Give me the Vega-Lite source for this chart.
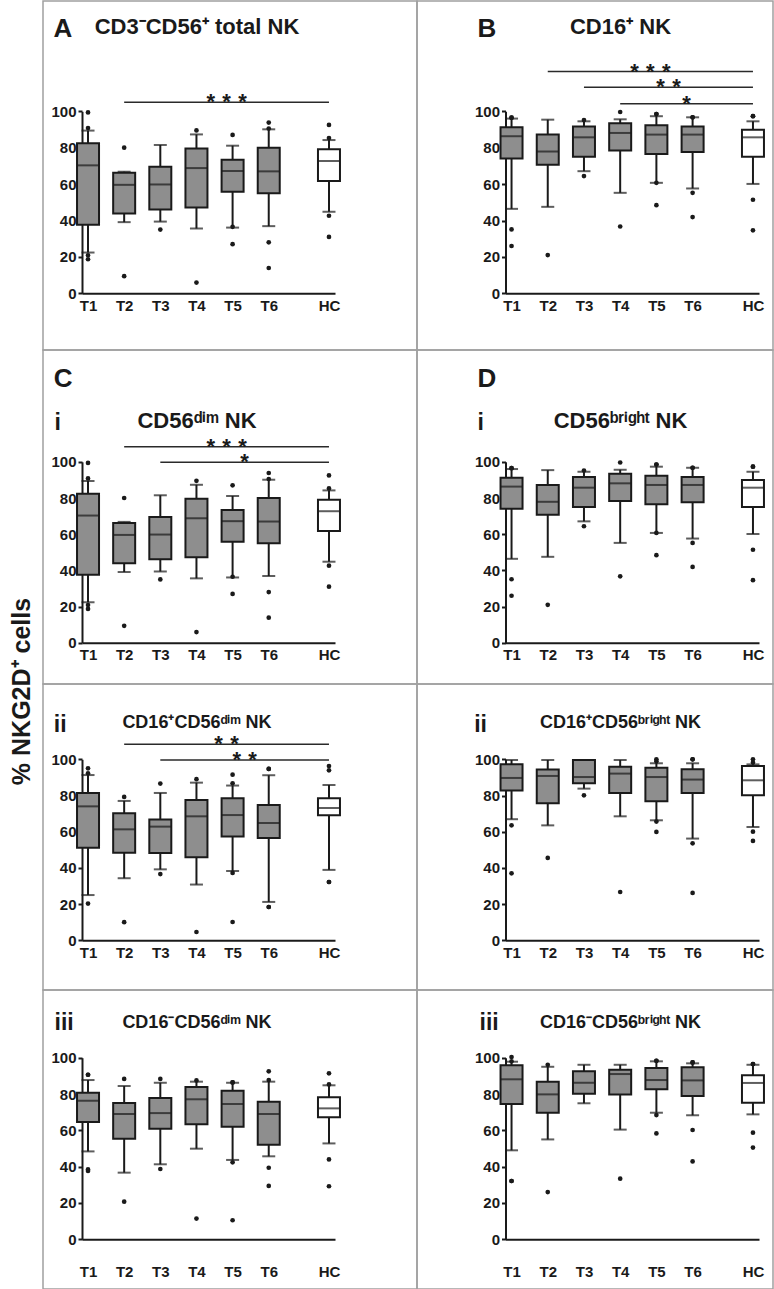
{
  "$schema": "https://vega.github.io/schema/vega-lite/v6.json",
  "padding": 0,
  "background": "#ffffff",
  "columns": 3,
  "spacing": 0,
  "bounds": "flush",
  "datasets": {
    "stats": [
      {"p":"A","g":"T1","lo":22.4,"q1":37.6,"med":70.3,"q3":82.4,"hi":89.4},
      {"p":"A","g":"T2","lo":39.1,"q1":43.9,"med":59.6,"q3":66.2,"hi":66.8},
      {"p":"A","g":"T3","lo":39.4,"q1":46.1,"med":59.8,"q3":69.5,"hi":81.5},
      {"p":"A","g":"T4","lo":35.6,"q1":47.2,"med":68.8,"q3":79.6,"hi":87.3},
      {"p":"A","g":"T5","lo":36.1,"q1":55.8,"med":67.2,"q3":73.4,"hi":81.1},
      {"p":"A","g":"T6","lo":36.9,"q1":55.0,"med":67.0,"q3":80.0,"hi":90.1},
      {"p":"A","g":"HC","lo":44.8,"q1":61.7,"med":72.7,"q3":79.1,"hi":84.2},
      {"p":"B","g":"T1","lo":46.4,"q1":74.0,"med":86.3,"q3":91.2,"hi":96.0},
      {"p":"B","g":"T2","lo":47.5,"q1":70.7,"med":77.9,"q3":87.2,"hi":95.4},
      {"p":"B","g":"T3","lo":67.1,"q1":75.0,"med":85.7,"q3":91.6,"hi":94.5},
      {"p":"B","g":"T4","lo":55.2,"q1":78.4,"med":88.1,"q3":93.4,"hi":95.6},
      {"p":"B","g":"T5","lo":60.7,"q1":76.6,"med":87.2,"q3":92.3,"hi":97.3},
      {"p":"B","g":"T6","lo":57.6,"q1":77.7,"med":87.2,"q3":91.6,"hi":96.7},
      {"p":"B","g":"HC","lo":60.1,"q1":75.0,"med":85.7,"q3":89.9,"hi":94.5},
      {"p":"Ci","g":"T1","lo":22.4,"q1":37.6,"med":70.3,"q3":82.4,"hi":89.4},
      {"p":"Ci","g":"T2","lo":39.1,"q1":43.9,"med":59.6,"q3":66.2,"hi":66.8},
      {"p":"Ci","g":"T3","lo":39.4,"q1":46.1,"med":59.8,"q3":69.5,"hi":81.5},
      {"p":"Ci","g":"T4","lo":35.6,"q1":47.2,"med":68.8,"q3":79.6,"hi":87.3},
      {"p":"Ci","g":"T5","lo":36.1,"q1":55.8,"med":67.2,"q3":73.4,"hi":81.1},
      {"p":"Ci","g":"T6","lo":36.9,"q1":55.0,"med":67.0,"q3":80.0,"hi":90.1},
      {"p":"Ci","g":"HC","lo":44.8,"q1":61.7,"med":72.7,"q3":79.1,"hi":84.2},
      {"p":"Di","g":"T1","lo":46.4,"q1":74.0,"med":86.3,"q3":91.2,"hi":96.0},
      {"p":"Di","g":"T2","lo":47.5,"q1":70.7,"med":77.9,"q3":87.2,"hi":95.4},
      {"p":"Di","g":"T3","lo":67.1,"q1":75.0,"med":85.7,"q3":91.6,"hi":94.5},
      {"p":"Di","g":"T4","lo":55.2,"q1":78.4,"med":88.1,"q3":93.4,"hi":95.6},
      {"p":"Di","g":"T5","lo":60.7,"q1":76.6,"med":87.2,"q3":92.3,"hi":97.3},
      {"p":"Di","g":"T6","lo":57.6,"q1":77.7,"med":87.2,"q3":91.6,"hi":96.7},
      {"p":"Di","g":"HC","lo":60.1,"q1":75.0,"med":85.7,"q3":89.9,"hi":94.5},
      {"p":"Cii","g":"T1","lo":25.0,"q1":51.2,"med":74.0,"q3":81.4,"hi":91.3},
      {"p":"Cii","g":"T2","lo":34.3,"q1":48.4,"med":61.3,"q3":70.2,"hi":77.0},
      {"p":"Cii","g":"T3","lo":39.2,"q1":48.3,"med":62.8,"q3":66.7,"hi":81.4},
      {"p":"Cii","g":"T4","lo":30.8,"q1":45.9,"med":68.5,"q3":77.5,"hi":87.1},
      {"p":"Cii","g":"T5","lo":38.3,"q1":57.3,"med":69.2,"q3":78.5,"hi":85.5},
      {"p":"Cii","g":"T6","lo":21.2,"q1":56.5,"med":64.8,"q3":74.8,"hi":91.2},
      {"p":"Cii","g":"HC","lo":38.9,"q1":69.1,"med":73.1,"q3":78.5,"hi":85.8},
      {"p":"Dii","g":"T1","lo":66.9,"q1":82.7,"med":89.7,"q3":97.2,"hi":99.6},
      {"p":"Dii","g":"T2","lo":63.5,"q1":75.7,"med":90.8,"q3":94.3,"hi":99.6},
      {"p":"Dii","g":"T3","lo":83.8,"q1":86.7,"med":90.2,"q3":99.6,"hi":99.6},
      {"p":"Dii","g":"T4","lo":68.5,"q1":81.4,"med":92.1,"q3":95.9,"hi":99.6},
      {"p":"Dii","g":"T5","lo":66.3,"q1":76.8,"med":90.2,"q3":95.4,"hi":97.8},
      {"p":"Dii","g":"T6","lo":56.2,"q1":81.4,"med":88.8,"q3":94.5,"hi":97.8},
      {"p":"Dii","g":"HC","lo":62.6,"q1":80.1,"med":88.4,"q3":96.3,"hi":97.2},
      {"p":"Ciii","g":"T1","lo":48.4,"q1":64.6,"med":76.3,"q3":80.7,"hi":87.7},
      {"p":"Ciii","g":"T2","lo":36.7,"q1":55.4,"med":69.0,"q3":75.0,"hi":84.4},
      {"p":"Ciii","g":"T3","lo":41.3,"q1":60.9,"med":69.5,"q3":77.8,"hi":86.2},
      {"p":"Ciii","g":"T4","lo":49.9,"q1":63.3,"med":77.1,"q3":83.9,"hi":86.8},
      {"p":"Ciii","g":"T5","lo":43.7,"q1":62.0,"med":74.5,"q3":81.8,"hi":86.2},
      {"p":"Ciii","g":"T6","lo":45.7,"q1":52.1,"med":69.0,"q3":75.8,"hi":86.8},
      {"p":"Ciii","g":"HC","lo":52.8,"q1":67.2,"med":72.1,"q3":78.2,"hi":84.8},
      {"p":"Diii","g":"T1","lo":49.0,"q1":74.5,"med":88.1,"q3":95.8,"hi":97.8},
      {"p":"Diii","g":"T2","lo":55.0,"q1":69.7,"med":79.8,"q3":86.8,"hi":95.0},
      {"p":"Diii","g":"T3","lo":74.9,"q1":80.2,"med":86.2,"q3":92.5,"hi":96.1},
      {"p":"Diii","g":"T4","lo":60.4,"q1":79.8,"med":91.0,"q3":93.4,"hi":96.1},
      {"p":"Diii","g":"T5","lo":69.7,"q1":82.6,"med":87.7,"q3":94.3,"hi":98.0},
      {"p":"Diii","g":"T6","lo":68.3,"q1":78.9,"med":87.5,"q3":94.7,"hi":96.9},
      {"p":"Diii","g":"HC","lo":68.8,"q1":75.2,"med":86.1,"q3":90.3,"hi":96.1}
    ],
    "out": [
      {"p":"A","g":"T1","v":99.4},{"p":"A","g":"T1","v":90.8},{"p":"A","g":"T1","v":20.9},{"p":"A","g":"T1","v":18.7},
      {"p":"A","g":"T2","v":80.0},{"p":"A","g":"T2","v":9.4},
      {"p":"A","g":"T3","v":35.0},
      {"p":"A","g":"T4","v":89.5},{"p":"A","g":"T4","v":5.9},
      {"p":"A","g":"T5","v":87.0},{"p":"A","g":"T5","v":36.5},{"p":"A","g":"T5","v":27.0},
      {"p":"A","g":"T6","v":93.8},{"p":"A","g":"T6","v":90.5},{"p":"A","g":"T6","v":28.0},{"p":"A","g":"T6","v":13.9},
      {"p":"A","g":"HC","v":92.5},{"p":"A","g":"HC","v":85.3},{"p":"A","g":"HC","v":42.6},{"p":"A","g":"HC","v":31.0},
      {"p":"B","g":"T1","v":96.5},{"p":"B","g":"T1","v":96.5},{"p":"B","g":"T1","v":35.1},{"p":"B","g":"T1","v":26.0},
      {"p":"B","g":"T2","v":21.0},
      {"p":"B","g":"T3","v":95.2},{"p":"B","g":"T3","v":64.4},
      {"p":"B","g":"T4","v":99.6},{"p":"B","g":"T4","v":36.7},
      {"p":"B","g":"T5","v":98.5},{"p":"B","g":"T5","v":98.5},{"p":"B","g":"T5","v":60.7},{"p":"B","g":"T5","v":48.4},
      {"p":"B","g":"T6","v":96.7},{"p":"B","g":"T6","v":96.7},{"p":"B","g":"T6","v":55.2},{"p":"B","g":"T6","v":41.9},
      {"p":"B","g":"HC","v":97.3},{"p":"B","g":"HC","v":97.3},{"p":"B","g":"HC","v":51.4},{"p":"B","g":"HC","v":34.6},
      {"p":"Ci","g":"T1","v":99.4},{"p":"Ci","g":"T1","v":90.8},{"p":"Ci","g":"T1","v":20.9},{"p":"Ci","g":"T1","v":18.7},
      {"p":"Ci","g":"T2","v":80.0},{"p":"Ci","g":"T2","v":9.4},
      {"p":"Ci","g":"T3","v":35.0},
      {"p":"Ci","g":"T4","v":89.5},{"p":"Ci","g":"T4","v":5.9},
      {"p":"Ci","g":"T5","v":87.0},{"p":"Ci","g":"T5","v":36.5},{"p":"Ci","g":"T5","v":27.0},
      {"p":"Ci","g":"T6","v":93.8},{"p":"Ci","g":"T6","v":90.5},{"p":"Ci","g":"T6","v":28.0},{"p":"Ci","g":"T6","v":13.9},
      {"p":"Ci","g":"HC","v":92.5},{"p":"Ci","g":"HC","v":85.3},{"p":"Ci","g":"HC","v":42.6},{"p":"Ci","g":"HC","v":31.0},
      {"p":"Di","g":"T1","v":96.5},{"p":"Di","g":"T1","v":96.5},{"p":"Di","g":"T1","v":35.1},{"p":"Di","g":"T1","v":26.0},
      {"p":"Di","g":"T2","v":21.0},
      {"p":"Di","g":"T3","v":95.2},{"p":"Di","g":"T3","v":64.4},
      {"p":"Di","g":"T4","v":99.6},{"p":"Di","g":"T4","v":36.7},
      {"p":"Di","g":"T5","v":98.5},{"p":"Di","g":"T5","v":98.5},{"p":"Di","g":"T5","v":60.7},{"p":"Di","g":"T5","v":48.4},
      {"p":"Di","g":"T6","v":96.7},{"p":"Di","g":"T6","v":96.7},{"p":"Di","g":"T6","v":55.2},{"p":"Di","g":"T6","v":41.9},
      {"p":"Di","g":"HC","v":97.3},{"p":"Di","g":"HC","v":97.3},{"p":"Di","g":"HC","v":51.4},{"p":"Di","g":"HC","v":34.6},
      {"p":"Cii","g":"T1","v":95.0},{"p":"Cii","g":"T1","v":92.3},{"p":"Cii","g":"T1","v":20.3},
      {"p":"Cii","g":"T2","v":79.2},{"p":"Cii","g":"T2","v":10.0},
      {"p":"Cii","g":"T3","v":86.6},{"p":"Cii","g":"T3","v":36.6},
      {"p":"Cii","g":"T4","v":89.0},{"p":"Cii","g":"T4","v":4.6},
      {"p":"Cii","g":"T5","v":91.5},{"p":"Cii","g":"T5","v":86.7},{"p":"Cii","g":"T5","v":37.2},{"p":"Cii","g":"T5","v":10.1},
      {"p":"Cii","g":"T6","v":94.7},{"p":"Cii","g":"T6","v":94.7},{"p":"Cii","g":"T6","v":18.4},{"p":"Cii","g":"T6","v":18.4},
      {"p":"Cii","g":"HC","v":96.3},{"p":"Cii","g":"HC","v":93.9},{"p":"Cii","g":"HC","v":32.2},{"p":"Cii","g":"HC","v":32.2},
      {"p":"Dii","g":"T1","v":63.5},{"p":"Dii","g":"T1","v":37.0},
      {"p":"Dii","g":"T2","v":45.5},
      {"p":"Dii","g":"T3","v":80.1},
      {"p":"Dii","g":"T4","v":26.7},
      {"p":"Dii","g":"T5","v":100.0},{"p":"Dii","g":"T5","v":98.9},{"p":"Dii","g":"T5","v":65.6},{"p":"Dii","g":"T5","v":59.9},
      {"p":"Dii","g":"T6","v":100.0},{"p":"Dii","g":"T6","v":100.0},{"p":"Dii","g":"T6","v":53.6},{"p":"Dii","g":"T6","v":26.2},
      {"p":"Dii","g":"HC","v":100.0},{"p":"Dii","g":"HC","v":98.2},{"p":"Dii","g":"HC","v":60.0},{"p":"Dii","g":"HC","v":54.9},
      {"p":"Ciii","g":"T1","v":90.6},{"p":"Ciii","g":"T1","v":90.6},{"p":"Ciii","g":"T1","v":38.5},{"p":"Ciii","g":"T1","v":37.6},
      {"p":"Ciii","g":"T2","v":88.3},{"p":"Ciii","g":"T2","v":20.7},
      {"p":"Ciii","g":"T3","v":88.3},{"p":"Ciii","g":"T3","v":38.7},
      {"p":"Ciii","g":"T4","v":87.5},{"p":"Ciii","g":"T4","v":11.4},
      {"p":"Ciii","g":"T5","v":86.4},{"p":"Ciii","g":"T5","v":86.4},{"p":"Ciii","g":"T5","v":42.4},{"p":"Ciii","g":"T5","v":10.5},
      {"p":"Ciii","g":"T6","v":92.5},{"p":"Ciii","g":"T6","v":87.7},{"p":"Ciii","g":"T6","v":39.4},{"p":"Ciii","g":"T6","v":29.4},
      {"p":"Ciii","g":"HC","v":91.4},{"p":"Ciii","g":"HC","v":85.3},{"p":"Ciii","g":"HC","v":44.0},{"p":"Ciii","g":"HC","v":29.2},
      {"p":"Diii","g":"T1","v":100.4},{"p":"Diii","g":"T1","v":98.0},{"p":"Diii","g":"T1","v":32.1},{"p":"Diii","g":"T1","v":32.1},
      {"p":"Diii","g":"T2","v":96.1},{"p":"Diii","g":"T2","v":26.0},
      {"p":"Diii","g":"T4","v":33.4},
      {"p":"Diii","g":"T5","v":98.3},{"p":"Diii","g":"T5","v":98.3},{"p":"Diii","g":"T5","v":68.4},{"p":"Diii","g":"T5","v":58.3},
      {"p":"Diii","g":"T6","v":97.4},{"p":"Diii","g":"T6","v":97.4},{"p":"Diii","g":"T6","v":60.2},{"p":"Diii","g":"T6","v":42.9},
      {"p":"Diii","g":"HC","v":96.5},{"p":"Diii","g":"HC","v":96.5},{"p":"Diii","g":"HC","v":58.7},{"p":"Diii","g":"HC","v":50.5}
    ],
    "sig": [
      {"p":"A","from":"T2","to":"HC","pair":"T2-HC","level":105.0,"stars":"*\u2004*\u2004*"},
      {"p":"B","from":"T2","to":"HC","pair":"T2-HC","level":121.8,"stars":"*\u2004*\u2004*"},
      {"p":"B","from":"T3","to":"HC","pair":"T3-HC","level":113.2,"stars":"*\u2004*"},
      {"p":"B","from":"T4","to":"HC","pair":"T4-HC","level":104.2,"stars":"*"},
      {"p":"Ci","from":"T2","to":"HC","pair":"T2-HC","level":108.3,"stars":"*\u2004*\u2004*"},
      {"p":"Ci","from":"T3","to":"HC","pair":"T3-HC","level":99.8,"stars":"*"},
      {"p":"Cii","from":"T2","to":"HC","pair":"T2-HC","level":108.3,"stars":"*\u2004*"},
      {"p":"Cii","from":"T3","to":"HC","pair":"T3-HC","level":99.6,"stars":"*\u2004*"}
    ]
  },
  "concat": [
    {"width": 43, "height": 349, "view": {"stroke": null}, "data": {"values": [{"v": 0}]}, "mark": {"type": "point", "opacity": 0}, "encoding": {"y": {"field": "v", "type": "quantitative", "axis": null}}},
    {
      "width": 374, "height": 349,
      "title": {"text": "CD3⁻CD56⁺ total NK", "anchor": "middle", "frame": "group", "dx": -33, "offset": -55.3, "baseline": "alphabetic", "fontSize": 22},
      "encoding": {"x": {"field": "g", "type": "ordinal", "scale": {"type": "point", "domain": ["T1","s1","s2","s3","s4","s5","T2","s7","s8","s9","s10","s11","T3","s13","s14","s15","s16","s17","T4","s19","s20","s21","s22","T2-HC","T5","s25","T3-HC","s27","s28","T4-HC","T6","s31","s32","s33","s34","s35","s36","s37","s38","s39","HC"], "range": [39, 292], "padding": 2.9}, "axis": {"values": ["T1","T2","T3","T4","T5","T6","HC"], "orient": "bottom", "offset": -56.7, "ticks": false, "labelPadding": 5, "labelAngle": 0, "title": null}}},
      "layer": [
        {"data": {"name": "stats"}, "transform": [{"filter": "datum.p === 'A'"}], "mark": {"type": "rule", "color": "#1a1a1a", "strokeWidth": 2}, "encoding": {"y": {"field": "lo", "type": "quantitative", "scale": {"domain": [0, 100], "range": [292.3, 110.3], "nice": false, "zero": false}, "axis": {"values": [0,20,40,60,80,100], "orient": "left", "offset": -39, "tickSize": 4, "labelPadding": 2, "title": "A", "titleAngle": 0, "titleX": -29, "titleY": 35, "titleAlign": "left", "titleBaseline": "alphabetic", "titleFontSize": 26}}, "y2": {"field": "hi"}}},
        {"data": {"name": "stats"}, "transform": [{"filter": "datum.p === 'A'"}], "mark": {"type": "tick", "size": 13, "thickness": 2, "color": "#1a1a1a"}, "encoding": {"y": {"field": "hi", "type": "quantitative"}}},
        {"data": {"name": "stats"}, "transform": [{"filter": "datum.p === 'A'"}], "mark": {"type": "tick", "size": 13, "thickness": 2, "color": "#1a1a1a"}, "encoding": {"y": {"field": "lo", "type": "quantitative"}}},
        {"data": {"name": "stats"}, "transform": [{"filter": "datum.p === 'A'"}], "mark": {"type": "bar", "size": 22, "stroke": "#1a1a1a", "strokeWidth": 2}, "encoding": {"y": {"field": "q1", "type": "quantitative"}, "y2": {"field": "q3"}, "fill": {"field": "g", "type": "nominal", "scale": {"domain": ["T1","T2","T3","T4","T5","T6","HC"], "range": ["#8e8e8e","#8e8e8e","#8e8e8e","#8e8e8e","#8e8e8e","#8e8e8e","#ffffff"]}, "legend": null}}},
        {"data": {"name": "stats"}, "transform": [{"filter": "datum.p === 'A'"}], "mark": {"type": "tick", "size": 22, "thickness": 2, "color": "#1a1a1a"}, "encoding": {"y": {"field": "med", "type": "quantitative"}}},
        {"data": {"name": "out"}, "transform": [{"filter": "datum.p === 'A'"}], "mark": {"type": "circle", "size": 22, "color": "#1a1a1a", "opacity": 1}, "encoding": {"y": {"field": "v", "type": "quantitative"}}},
        {"data": {"name": "sig"}, "transform": [{"filter": "datum.p === 'A'"}], "mark": {"type": "rule", "color": "#2a2a2a", "strokeWidth": 1.5}, "encoding": {"x": {"field": "from", "type": "ordinal"}, "x2": {"field": "to"}, "y": {"field": "level", "type": "quantitative"}}},
        {"data": {"name": "sig"}, "transform": [{"filter": "datum.p === 'A'"}], "mark": {"type": "text", "fontSize": 22, "fontWeight": "bold", "baseline": "alphabetic", "dy": 7, "color": "#1a1a1a"}, "encoding": {"x": {"field": "pair", "type": "ordinal"}, "y": {"field": "level", "type": "quantitative"}, "text": {"field": "stars"}}}
      ]
    },
    {
      "width": 356, "height": 349,
      "title": {"text": "CD16⁺ NK", "anchor": "middle", "frame": "group", "dx": 25.5, "offset": -55.3, "baseline": "alphabetic", "fontSize": 22},
      "encoding": {"x": {"field": "g", "type": "ordinal", "scale": {"type": "point", "domain": ["T1","s1","s2","s3","s4","s5","T2","s7","s8","s9","s10","s11","T3","s13","s14","s15","s16","s17","T4","s19","s20","s21","s22","T2-HC","T5","s25","T3-HC","s27","s28","T4-HC","T6","s31","s32","s33","s34","s35","s36","s37","s38","s39","HC"], "range": [88.5, 342], "padding": 3.0}, "axis": {"values": ["T1","T2","T3","T4","T5","T6","HC"], "orient": "bottom", "offset": -56.7, "ticks": false, "labelPadding": 5, "labelAngle": 0, "title": null}}},
      "layer": [
        {"data": {"name": "stats"}, "transform": [{"filter": "datum.p === 'B'"}], "mark": {"type": "rule", "color": "#1a1a1a", "strokeWidth": 2}, "encoding": {"y": {"field": "lo", "type": "quantitative", "scale": {"domain": [0, 100], "range": [292.3, 110.3], "nice": false, "zero": false}, "axis": {"values": [0,20,40,60,80,100], "orient": "left", "offset": -88.5, "tickSize": 4, "labelPadding": 2, "title": "B", "titleAngle": 0, "titleX": -28.5, "titleY": 35, "titleAlign": "left", "titleBaseline": "alphabetic", "titleFontSize": 26}}, "y2": {"field": "hi"}}},
        {"data": {"name": "stats"}, "transform": [{"filter": "datum.p === 'B'"}], "mark": {"type": "tick", "size": 13, "thickness": 2, "color": "#1a1a1a"}, "encoding": {"y": {"field": "hi", "type": "quantitative"}}},
        {"data": {"name": "stats"}, "transform": [{"filter": "datum.p === 'B'"}], "mark": {"type": "tick", "size": 13, "thickness": 2, "color": "#1a1a1a"}, "encoding": {"y": {"field": "lo", "type": "quantitative"}}},
        {"data": {"name": "stats"}, "transform": [{"filter": "datum.p === 'B'"}], "mark": {"type": "bar", "size": 22, "stroke": "#1a1a1a", "strokeWidth": 2}, "encoding": {"y": {"field": "q1", "type": "quantitative"}, "y2": {"field": "q3"}, "fill": {"field": "g", "type": "nominal", "scale": {"domain": ["T1","T2","T3","T4","T5","T6","HC"], "range": ["#8e8e8e","#8e8e8e","#8e8e8e","#8e8e8e","#8e8e8e","#8e8e8e","#ffffff"]}, "legend": null}}},
        {"data": {"name": "stats"}, "transform": [{"filter": "datum.p === 'B'"}], "mark": {"type": "tick", "size": 22, "thickness": 2, "color": "#1a1a1a"}, "encoding": {"y": {"field": "med", "type": "quantitative"}}},
        {"data": {"name": "out"}, "transform": [{"filter": "datum.p === 'B'"}], "mark": {"type": "circle", "size": 22, "color": "#1a1a1a", "opacity": 1}, "encoding": {"y": {"field": "v", "type": "quantitative"}}},
        {"data": {"name": "sig"}, "transform": [{"filter": "datum.p === 'B'"}], "mark": {"type": "rule", "color": "#2a2a2a", "strokeWidth": 1.5}, "encoding": {"x": {"field": "from", "type": "ordinal"}, "x2": {"field": "to"}, "y": {"field": "level", "type": "quantitative"}}},
        {"data": {"name": "sig"}, "transform": [{"filter": "datum.p === 'B'"}], "mark": {"type": "text", "fontSize": 22, "fontWeight": "bold", "baseline": "alphabetic", "dy": 7, "color": "#1a1a1a"}, "encoding": {"x": {"field": "pair", "type": "ordinal"}, "y": {"field": "level", "type": "quantitative"}, "text": {"field": "stars"}}}
      ]
    },
    {"width": 43, "height": 334, "view": {"stroke": null}, "data": {"values": [{"v": 0}]}, "mark": {"type": "point", "opacity": 0}, "encoding": {"y": {"field": "v", "type": "quantitative", "axis": {"labels": false, "ticks": false, "domain": false, "grid": false, "title": "% NKG2D⁺ cells", "titleAngle": 270, "titleX": 21.7, "titleY": 341, "titleAlign": "center", "titleBaseline": "middle", "titleFontSize": 25}}}},
    {
      "width": 374, "height": 334,
      "title": {"text": "CD56ᵈⁱᵐ NK", "anchor": "middle", "frame": "group", "dx": -33, "offset": -100, "baseline": "alphabetic", "fontSize": 22},
      "encoding": {"x": {"field": "g", "type": "ordinal", "scale": {"type": "point", "domain": ["T1","s1","s2","s3","s4","s5","T2","s7","s8","s9","s10","s11","T3","s13","s14","s15","s16","s17","T4","s19","s20","s21","s22","T2-HC","T5","s25","T3-HC","s27","s28","T4-HC","T6","s31","s32","s33","s34","s35","s36","s37","s38","s39","HC"], "range": [39, 292], "padding": 2.9}, "axis": {"values": ["T1","T2","T3","T4","T5","T6","HC"], "orient": "bottom", "offset": -41.2, "ticks": false, "labelPadding": 5, "labelAngle": 0, "title": "i", "titleX": 11, "titleY": -213.5, "titleAlign": "left", "titleBaseline": "alphabetic", "titleFontSize": 23}}},
      "layer": [
        {"data": {"name": "stats"}, "transform": [{"filter": "datum.p === 'Ci'"}], "mark": {"type": "rule", "color": "#1a1a1a", "strokeWidth": 2}, "encoding": {"y": {"field": "lo", "type": "quantitative", "scale": {"domain": [0, 100], "range": [292.8, 111.8], "nice": false, "zero": false}, "axis": {"values": [0,20,40,60,80,100], "orient": "left", "offset": -39, "tickSize": 4, "labelPadding": 2, "title": "C", "titleAngle": 0, "titleX": -28.7, "titleY": 36, "titleAlign": "left", "titleBaseline": "alphabetic", "titleFontSize": 26}}, "y2": {"field": "hi"}}},
        {"data": {"name": "stats"}, "transform": [{"filter": "datum.p === 'Ci'"}], "mark": {"type": "tick", "size": 13, "thickness": 2, "color": "#1a1a1a"}, "encoding": {"y": {"field": "hi", "type": "quantitative"}}},
        {"data": {"name": "stats"}, "transform": [{"filter": "datum.p === 'Ci'"}], "mark": {"type": "tick", "size": 13, "thickness": 2, "color": "#1a1a1a"}, "encoding": {"y": {"field": "lo", "type": "quantitative"}}},
        {"data": {"name": "stats"}, "transform": [{"filter": "datum.p === 'Ci'"}], "mark": {"type": "bar", "size": 22, "stroke": "#1a1a1a", "strokeWidth": 2}, "encoding": {"y": {"field": "q1", "type": "quantitative"}, "y2": {"field": "q3"}, "fill": {"field": "g", "type": "nominal", "scale": {"domain": ["T1","T2","T3","T4","T5","T6","HC"], "range": ["#8e8e8e","#8e8e8e","#8e8e8e","#8e8e8e","#8e8e8e","#8e8e8e","#ffffff"]}, "legend": null}}},
        {"data": {"name": "stats"}, "transform": [{"filter": "datum.p === 'Ci'"}], "mark": {"type": "tick", "size": 22, "thickness": 2, "color": "#1a1a1a"}, "encoding": {"y": {"field": "med", "type": "quantitative"}}},
        {"data": {"name": "out"}, "transform": [{"filter": "datum.p === 'Ci'"}], "mark": {"type": "circle", "size": 22, "color": "#1a1a1a", "opacity": 1}, "encoding": {"y": {"field": "v", "type": "quantitative"}}},
        {"data": {"name": "sig"}, "transform": [{"filter": "datum.p === 'Ci'"}], "mark": {"type": "rule", "color": "#2a2a2a", "strokeWidth": 1.5}, "encoding": {"x": {"field": "from", "type": "ordinal"}, "x2": {"field": "to"}, "y": {"field": "level", "type": "quantitative"}}},
        {"data": {"name": "sig"}, "transform": [{"filter": "datum.p === 'Ci'"}], "mark": {"type": "text", "fontSize": 22, "fontWeight": "bold", "baseline": "alphabetic", "dy": 7, "color": "#1a1a1a"}, "encoding": {"x": {"field": "pair", "type": "ordinal"}, "y": {"field": "level", "type": "quantitative"}, "text": {"field": "stars"}}}
      ]
    },
    {
      "width": 356, "height": 334,
      "title": {"text": "CD56ᵇʳⁱᵍʰᵗ NK", "anchor": "middle", "frame": "group", "dx": 25.5, "offset": -100, "baseline": "alphabetic", "fontSize": 22},
      "encoding": {"x": {"field": "g", "type": "ordinal", "scale": {"type": "point", "domain": ["T1","s1","s2","s3","s4","s5","T2","s7","s8","s9","s10","s11","T3","s13","s14","s15","s16","s17","T4","s19","s20","s21","s22","T2-HC","T5","s25","T3-HC","s27","s28","T4-HC","T6","s31","s32","s33","s34","s35","s36","s37","s38","s39","HC"], "range": [88.5, 342], "padding": 3.0}, "axis": {"values": ["T1","T2","T3","T4","T5","T6","HC"], "orient": "bottom", "offset": -41.2, "ticks": false, "labelPadding": 5, "labelAngle": 0, "title": "i", "titleX": 60, "titleY": -213.5, "titleAlign": "left", "titleBaseline": "alphabetic", "titleFontSize": 23}}},
      "layer": [
        {"data": {"name": "stats"}, "transform": [{"filter": "datum.p === 'Di'"}], "mark": {"type": "rule", "color": "#1a1a1a", "strokeWidth": 2}, "encoding": {"y": {"field": "lo", "type": "quantitative", "scale": {"domain": [0, 100], "range": [292.8, 111.8], "nice": false, "zero": false}, "axis": {"values": [0,20,40,60,80,100], "orient": "left", "offset": -88.5, "tickSize": 4, "labelPadding": 2, "title": "D", "titleAngle": 0, "titleX": -28.5, "titleY": 36, "titleAlign": "left", "titleBaseline": "alphabetic", "titleFontSize": 26}}, "y2": {"field": "hi"}}},
        {"data": {"name": "stats"}, "transform": [{"filter": "datum.p === 'Di'"}], "mark": {"type": "tick", "size": 13, "thickness": 2, "color": "#1a1a1a"}, "encoding": {"y": {"field": "hi", "type": "quantitative"}}},
        {"data": {"name": "stats"}, "transform": [{"filter": "datum.p === 'Di'"}], "mark": {"type": "tick", "size": 13, "thickness": 2, "color": "#1a1a1a"}, "encoding": {"y": {"field": "lo", "type": "quantitative"}}},
        {"data": {"name": "stats"}, "transform": [{"filter": "datum.p === 'Di'"}], "mark": {"type": "bar", "size": 22, "stroke": "#1a1a1a", "strokeWidth": 2}, "encoding": {"y": {"field": "q1", "type": "quantitative"}, "y2": {"field": "q3"}, "fill": {"field": "g", "type": "nominal", "scale": {"domain": ["T1","T2","T3","T4","T5","T6","HC"], "range": ["#8e8e8e","#8e8e8e","#8e8e8e","#8e8e8e","#8e8e8e","#8e8e8e","#ffffff"]}, "legend": null}}},
        {"data": {"name": "stats"}, "transform": [{"filter": "datum.p === 'Di'"}], "mark": {"type": "tick", "size": 22, "thickness": 2, "color": "#1a1a1a"}, "encoding": {"y": {"field": "med", "type": "quantitative"}}},
        {"data": {"name": "out"}, "transform": [{"filter": "datum.p === 'Di'"}], "mark": {"type": "circle", "size": 22, "color": "#1a1a1a", "opacity": 1}, "encoding": {"y": {"field": "v", "type": "quantitative"}}}
      ]
    },
    {"width": 43, "height": 306, "view": {"stroke": null}, "data": {"values": [{"v": 0}]}, "mark": {"type": "point", "opacity": 0}, "encoding": {"y": {"field": "v", "type": "quantitative", "axis": null}}},
    {
      "width": 374, "height": 306,
      "title": {"text": "CD16⁺CD56ᵈⁱᵐ NK", "anchor": "middle", "frame": "group", "dx": -33, "offset": -62.3, "baseline": "alphabetic", "fontSize": 18},
      "encoding": {"x": {"field": "g", "type": "ordinal", "scale": {"type": "point", "domain": ["T1","s1","s2","s3","s4","s5","T2","s7","s8","s9","s10","s11","T3","s13","s14","s15","s16","s17","T4","s19","s20","s21","s22","T2-HC","T5","s25","T3-HC","s27","s28","T4-HC","T6","s31","s32","s33","s34","s35","s36","s37","s38","s39","HC"], "range": [39, 292], "padding": 2.9}, "axis": {"values": ["T1","T2","T3","T4","T5","T6","HC"], "orient": "bottom", "offset": -49.7, "ticks": false, "labelPadding": 5, "labelAngle": 0, "title": null}}},
      "layer": [
        {"data": {"name": "stats"}, "transform": [{"filter": "datum.p === 'Cii'"}], "mark": {"type": "rule", "color": "#1a1a1a", "strokeWidth": 2}, "encoding": {"y": {"field": "lo", "type": "quantitative", "scale": {"domain": [0, 100], "range": [256.3, 75.3], "nice": false, "zero": false}, "axis": {"values": [0,20,40,60,80,100], "orient": "left", "offset": -39, "tickSize": 4, "labelPadding": 2, "title": "ii", "titleAngle": 0, "titleX": -28.7, "titleY": 47, "titleAlign": "left", "titleBaseline": "alphabetic", "titleFontSize": 23}}, "y2": {"field": "hi"}}},
        {"data": {"name": "stats"}, "transform": [{"filter": "datum.p === 'Cii'"}], "mark": {"type": "tick", "size": 13, "thickness": 2, "color": "#1a1a1a"}, "encoding": {"y": {"field": "hi", "type": "quantitative"}}},
        {"data": {"name": "stats"}, "transform": [{"filter": "datum.p === 'Cii'"}], "mark": {"type": "tick", "size": 13, "thickness": 2, "color": "#1a1a1a"}, "encoding": {"y": {"field": "lo", "type": "quantitative"}}},
        {"data": {"name": "stats"}, "transform": [{"filter": "datum.p === 'Cii'"}], "mark": {"type": "bar", "size": 22, "stroke": "#1a1a1a", "strokeWidth": 2}, "encoding": {"y": {"field": "q1", "type": "quantitative"}, "y2": {"field": "q3"}, "fill": {"field": "g", "type": "nominal", "scale": {"domain": ["T1","T2","T3","T4","T5","T6","HC"], "range": ["#8e8e8e","#8e8e8e","#8e8e8e","#8e8e8e","#8e8e8e","#8e8e8e","#ffffff"]}, "legend": null}}},
        {"data": {"name": "stats"}, "transform": [{"filter": "datum.p === 'Cii'"}], "mark": {"type": "tick", "size": 22, "thickness": 2, "color": "#1a1a1a"}, "encoding": {"y": {"field": "med", "type": "quantitative"}}},
        {"data": {"name": "out"}, "transform": [{"filter": "datum.p === 'Cii'"}], "mark": {"type": "circle", "size": 22, "color": "#1a1a1a", "opacity": 1}, "encoding": {"y": {"field": "v", "type": "quantitative"}}},
        {"data": {"name": "sig"}, "transform": [{"filter": "datum.p === 'Cii'"}], "mark": {"type": "rule", "color": "#2a2a2a", "strokeWidth": 1.5}, "encoding": {"x": {"field": "from", "type": "ordinal"}, "x2": {"field": "to"}, "y": {"field": "level", "type": "quantitative"}}},
        {"data": {"name": "sig"}, "transform": [{"filter": "datum.p === 'Cii'"}], "mark": {"type": "text", "fontSize": 22, "fontWeight": "bold", "baseline": "alphabetic", "dy": 7, "color": "#1a1a1a"}, "encoding": {"x": {"field": "pair", "type": "ordinal"}, "y": {"field": "level", "type": "quantitative"}, "text": {"field": "stars"}}}
      ]
    },
    {
      "width": 356, "height": 306,
      "title": {"text": "CD16⁺CD56ᵇʳⁱᵍʰᵗ NK", "anchor": "middle", "frame": "group", "dx": 25.5, "offset": -62.3, "baseline": "alphabetic", "fontSize": 18},
      "encoding": {"x": {"field": "g", "type": "ordinal", "scale": {"type": "point", "domain": ["T1","s1","s2","s3","s4","s5","T2","s7","s8","s9","s10","s11","T3","s13","s14","s15","s16","s17","T4","s19","s20","s21","s22","T2-HC","T5","s25","T3-HC","s27","s28","T4-HC","T6","s31","s32","s33","s34","s35","s36","s37","s38","s39","HC"], "range": [88.5, 342], "padding": 3.0}, "axis": {"values": ["T1","T2","T3","T4","T5","T6","HC"], "orient": "bottom", "offset": -49.7, "ticks": false, "labelPadding": 5, "labelAngle": 0, "title": null}}},
      "layer": [
        {"data": {"name": "stats"}, "transform": [{"filter": "datum.p === 'Dii'"}], "mark": {"type": "rule", "color": "#1a1a1a", "strokeWidth": 2}, "encoding": {"y": {"field": "lo", "type": "quantitative", "scale": {"domain": [0, 100], "range": [256.3, 75.3], "nice": false, "zero": false}, "axis": {"values": [0,20,40,60,80,100], "orient": "left", "offset": -88.5, "tickSize": 4, "labelPadding": 2, "title": "ii", "titleAngle": 0, "titleX": -31.8, "titleY": 47, "titleAlign": "left", "titleBaseline": "alphabetic", "titleFontSize": 23}}, "y2": {"field": "hi"}}},
        {"data": {"name": "stats"}, "transform": [{"filter": "datum.p === 'Dii'"}], "mark": {"type": "tick", "size": 13, "thickness": 2, "color": "#1a1a1a"}, "encoding": {"y": {"field": "hi", "type": "quantitative"}}},
        {"data": {"name": "stats"}, "transform": [{"filter": "datum.p === 'Dii'"}], "mark": {"type": "tick", "size": 13, "thickness": 2, "color": "#1a1a1a"}, "encoding": {"y": {"field": "lo", "type": "quantitative"}}},
        {"data": {"name": "stats"}, "transform": [{"filter": "datum.p === 'Dii'"}], "mark": {"type": "bar", "size": 22, "stroke": "#1a1a1a", "strokeWidth": 2}, "encoding": {"y": {"field": "q1", "type": "quantitative"}, "y2": {"field": "q3"}, "fill": {"field": "g", "type": "nominal", "scale": {"domain": ["T1","T2","T3","T4","T5","T6","HC"], "range": ["#8e8e8e","#8e8e8e","#8e8e8e","#8e8e8e","#8e8e8e","#8e8e8e","#ffffff"]}, "legend": null}}},
        {"data": {"name": "stats"}, "transform": [{"filter": "datum.p === 'Dii'"}], "mark": {"type": "tick", "size": 22, "thickness": 2, "color": "#1a1a1a"}, "encoding": {"y": {"field": "med", "type": "quantitative"}}},
        {"data": {"name": "out"}, "transform": [{"filter": "datum.p === 'Dii'"}], "mark": {"type": "circle", "size": 22, "color": "#1a1a1a", "opacity": 1}, "encoding": {"y": {"field": "v", "type": "quantitative"}}}
      ]
    },
    {"width": 43, "height": 299, "view": {"stroke": null}, "data": {"values": [{"v": 0}]}, "mark": {"type": "point", "opacity": 0}, "encoding": {"y": {"field": "v", "type": "quantitative", "axis": null}}},
    {
      "width": 374, "height": 299,
      "title": {"text": "CD16⁻CD56ᵈⁱᵐ NK", "anchor": "middle", "frame": "group", "dx": -33, "offset": -55.7, "baseline": "alphabetic", "fontSize": 18},
      "encoding": {"x": {"field": "g", "type": "ordinal", "scale": {"type": "point", "domain": ["T1","s1","s2","s3","s4","s5","T2","s7","s8","s9","s10","s11","T3","s13","s14","s15","s16","s17","T4","s19","s20","s21","s22","T2-HC","T5","s25","T3-HC","s27","s28","T4-HC","T6","s31","s32","s33","s34","s35","s36","s37","s38","s39","HC"], "range": [39, 292], "padding": 2.9}, "axis": {"values": ["T1","T2","T3","T4","T5","T6","HC"], "orient": "bottom", "offset": -49.7, "ticks": false, "labelPadding": 25, "labelAngle": 0, "title": null}}},
      "layer": [
        {"data": {"name": "stats"}, "transform": [{"filter": "datum.p === 'Ciii'"}], "mark": {"type": "rule", "color": "#1a1a1a", "strokeWidth": 2}, "encoding": {"y": {"field": "lo", "type": "quantitative", "scale": {"domain": [0, 100], "range": [249.3, 67.7], "nice": false, "zero": false}, "axis": {"values": [0,20,40,60,80,100], "orient": "left", "offset": -39, "tickSize": 4, "labelPadding": 2, "title": "iii", "titleAngle": 0, "titleX": -28, "titleY": 39.3, "titleAlign": "left", "titleBaseline": "alphabetic", "titleFontSize": 23}}, "y2": {"field": "hi"}}},
        {"data": {"name": "stats"}, "transform": [{"filter": "datum.p === 'Ciii'"}], "mark": {"type": "tick", "size": 13, "thickness": 2, "color": "#1a1a1a"}, "encoding": {"y": {"field": "hi", "type": "quantitative"}}},
        {"data": {"name": "stats"}, "transform": [{"filter": "datum.p === 'Ciii'"}], "mark": {"type": "tick", "size": 13, "thickness": 2, "color": "#1a1a1a"}, "encoding": {"y": {"field": "lo", "type": "quantitative"}}},
        {"data": {"name": "stats"}, "transform": [{"filter": "datum.p === 'Ciii'"}], "mark": {"type": "bar", "size": 22, "stroke": "#1a1a1a", "strokeWidth": 2}, "encoding": {"y": {"field": "q1", "type": "quantitative"}, "y2": {"field": "q3"}, "fill": {"field": "g", "type": "nominal", "scale": {"domain": ["T1","T2","T3","T4","T5","T6","HC"], "range": ["#8e8e8e","#8e8e8e","#8e8e8e","#8e8e8e","#8e8e8e","#8e8e8e","#ffffff"]}, "legend": null}}},
        {"data": {"name": "stats"}, "transform": [{"filter": "datum.p === 'Ciii'"}], "mark": {"type": "tick", "size": 22, "thickness": 2, "color": "#1a1a1a"}, "encoding": {"y": {"field": "med", "type": "quantitative"}}},
        {"data": {"name": "out"}, "transform": [{"filter": "datum.p === 'Ciii'"}], "mark": {"type": "circle", "size": 22, "color": "#1a1a1a", "opacity": 1}, "encoding": {"y": {"field": "v", "type": "quantitative"}}}
      ]
    },
    {
      "width": 356, "height": 299,
      "title": {"text": "CD16⁻CD56ᵇʳⁱᵍʰᵗ NK", "anchor": "middle", "frame": "group", "dx": 25.5, "offset": -55.7, "baseline": "alphabetic", "fontSize": 18},
      "encoding": {"x": {"field": "g", "type": "ordinal", "scale": {"type": "point", "domain": ["T1","s1","s2","s3","s4","s5","T2","s7","s8","s9","s10","s11","T3","s13","s14","s15","s16","s17","T4","s19","s20","s21","s22","T2-HC","T5","s25","T3-HC","s27","s28","T4-HC","T6","s31","s32","s33","s34","s35","s36","s37","s38","s39","HC"], "range": [88.5, 342], "padding": 3.0}, "axis": {"values": ["T1","T2","T3","T4","T5","T6","HC"], "orient": "bottom", "offset": -49.7, "ticks": false, "labelPadding": 25, "labelAngle": 0, "title": null}}},
      "layer": [
        {"data": {"name": "stats"}, "transform": [{"filter": "datum.p === 'Diii'"}], "mark": {"type": "rule", "color": "#1a1a1a", "strokeWidth": 2}, "encoding": {"y": {"field": "lo", "type": "quantitative", "scale": {"domain": [0, 100], "range": [249.3, 67.7], "nice": false, "zero": false}, "axis": {"values": [0,20,40,60,80,100], "orient": "left", "offset": -88.5, "tickSize": 4, "labelPadding": 2, "title": "iii", "titleAngle": 0, "titleX": -26.5, "titleY": 39.3, "titleAlign": "left", "titleBaseline": "alphabetic", "titleFontSize": 23}}, "y2": {"field": "hi"}}},
        {"data": {"name": "stats"}, "transform": [{"filter": "datum.p === 'Diii'"}], "mark": {"type": "tick", "size": 13, "thickness": 2, "color": "#1a1a1a"}, "encoding": {"y": {"field": "hi", "type": "quantitative"}}},
        {"data": {"name": "stats"}, "transform": [{"filter": "datum.p === 'Diii'"}], "mark": {"type": "tick", "size": 13, "thickness": 2, "color": "#1a1a1a"}, "encoding": {"y": {"field": "lo", "type": "quantitative"}}},
        {"data": {"name": "stats"}, "transform": [{"filter": "datum.p === 'Diii'"}], "mark": {"type": "bar", "size": 22, "stroke": "#1a1a1a", "strokeWidth": 2}, "encoding": {"y": {"field": "q1", "type": "quantitative"}, "y2": {"field": "q3"}, "fill": {"field": "g", "type": "nominal", "scale": {"domain": ["T1","T2","T3","T4","T5","T6","HC"], "range": ["#8e8e8e","#8e8e8e","#8e8e8e","#8e8e8e","#8e8e8e","#8e8e8e","#ffffff"]}, "legend": null}}},
        {"data": {"name": "stats"}, "transform": [{"filter": "datum.p === 'Diii'"}], "mark": {"type": "tick", "size": 22, "thickness": 2, "color": "#1a1a1a"}, "encoding": {"y": {"field": "med", "type": "quantitative"}}},
        {"data": {"name": "out"}, "transform": [{"filter": "datum.p === 'Diii'"}], "mark": {"type": "circle", "size": 22, "color": "#1a1a1a", "opacity": 1}, "encoding": {"y": {"field": "v", "type": "quantitative"}}}
      ]
    }
  ],
  "config": {
    "font": "Liberation Sans",
    "view": {"stroke": "#a0a0a0", "strokeWidth": 1.5},
    "title": {"font": "Liberation Sans", "fontWeight": "bold", "color": "#1a1a1a"},
    "axis": {"labelFont": "Liberation Sans", "labelFontWeight": "bold", "labelFontSize": 15, "labelColor": "#1a1a1a", "domainColor": "#1a1a1a", "domainWidth": 2, "tickColor": "#1a1a1a", "tickWidth": 2, "grid": false, "titleFont": "Liberation Sans", "titleFontWeight": "bold", "titleColor": "#1a1a1a"},
    "text": {"font": "Liberation Sans"}
  }
}
